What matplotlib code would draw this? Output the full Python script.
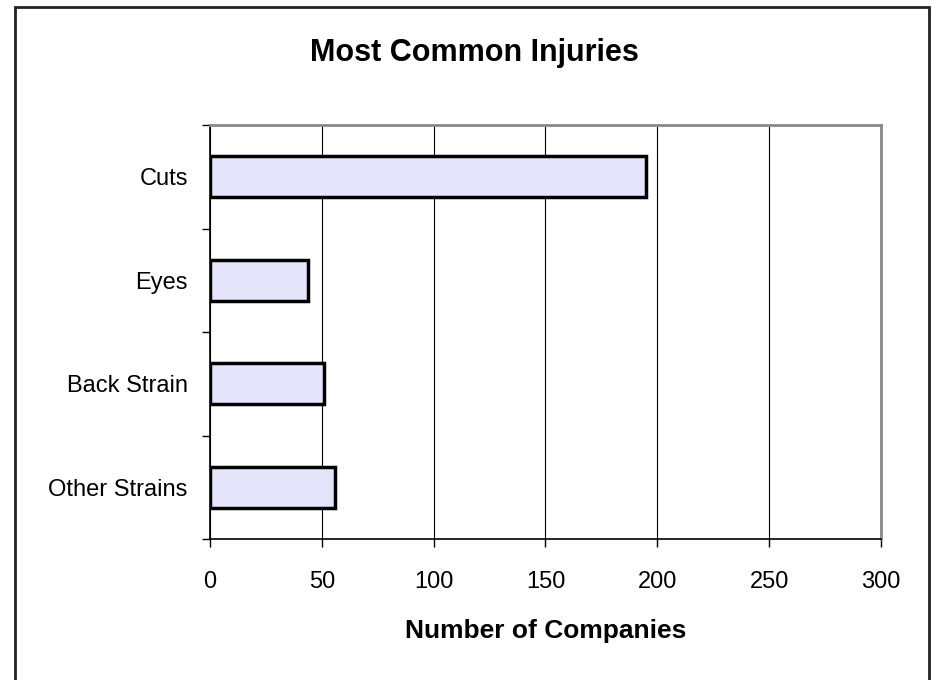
"""Most common injuries bar chart."""
import matplotlib
matplotlib.use('Agg')
import matplotlib.pyplot as plt
from matplotlib.patches import Rectangle

plt.rcParams['font.family'] = ['Liberation Sans', 'DejaVu Sans']

categories = ['Cuts', 'Eyes', 'Back Strain', 'Other Strains']
companies = [195, 44, 51, 56]
x_ticks = [0, 50, 100, 150, 200, 250, 300]

fig = plt.figure(figsize=(9.37, 6.80), dpi=100)
ax = fig.add_axes([210 / 937, 141 / 680, 671 / 937, 414 / 680])

ypos = list(range(len(categories)))
ax.barh(ypos, companies, height=0.4, color='#E4E4FA',
        edgecolor='black', linewidth=2.5, zorder=3)

ax.set_xlim(0, 300)
ax.set_ylim(len(categories) - 0.5, -0.5)
ax.set_xticks(x_ticks)
ax.set_xticklabels([str(t) for t in x_ticks], fontsize=17)

# category labels between boundary ticks
ax.set_yticks([i - 0.5 for i in range(len(categories) + 1)])
ax.set_yticklabels([])
ax.set_yticks(ypos, minor=True)
ax.set_yticklabels(categories, minor=True, fontsize=17)
ax.tick_params(axis='y', which='minor', length=0, pad=16)
ax.tick_params(axis='y', which='major', direction='out', length=6, width=1, color='black')
ax.tick_params(axis='x', direction='out', length=6, width=1, pad=17)

ax.grid(axis='x', color='black', linewidth=0.8, zorder=0)
ax.set_axisbelow(True)

ax.spines['left'].set_color('black')
ax.spines['left'].set_linewidth(1.2)
ax.spines['bottom'].set_color('black')
ax.spines['bottom'].set_linewidth(1.2)
ax.spines['top'].set_color('#888888')
ax.spines['top'].set_linewidth(2)
ax.spines['right'].set_color('#888888')
ax.spines['right'].set_linewidth(2)

ax.set_xlabel('Number of Companies', fontsize=19, fontweight='bold', labelpad=19)

fig.text(474 / 937, 1 - 53 / 680, 'Most Common Injuries', fontsize=22,
         fontweight='bold', ha='center', va='center')

# outer chart border
fig.patches.append(Rectangle((15 / 937, -0.05), 914 / 937, 1.05 - 7 / 680,
                             transform=fig.transFigure, fill=False,
                             edgecolor='#222222', linewidth=2))

plt.savefig('out.png', dpi=100)
plt.close()
